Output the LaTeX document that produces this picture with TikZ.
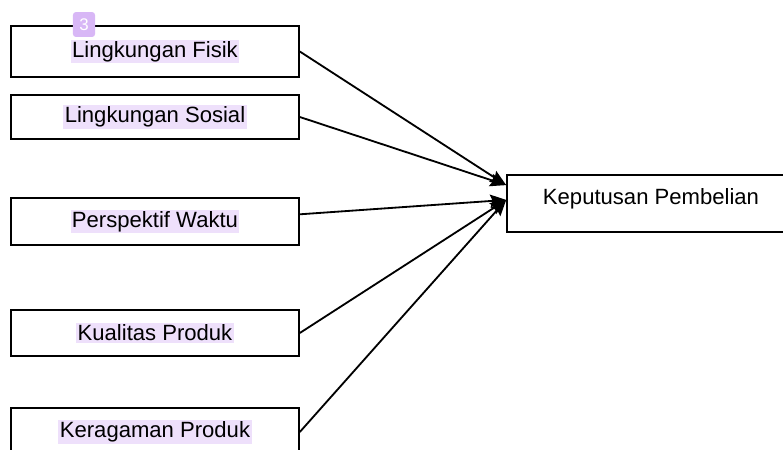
\documentclass[tikz,border=0pt]{standalone}
\usepackage{fontspec}
\setmainfont{Liberation Sans}
\usetikzlibrary{arrows.meta}
\definecolor{hlpurple}{RGB}{238,224,251}
\definecolor{badgepurple}{RGB}{216,183,246}
\newcommand{\hl}[1]{{\setlength{\fboxsep}{1pt}\colorbox{hlpurple}{#1}}}

\begin{document}
\begin{tikzpicture}[>={Stealth[length=4mm,width=3.2mm,inset=0.6mm]}, x=0.025cm, y=-0.025cm,
  box/.style={draw, line width=1.1pt, fill=white, minimum width=7.2cm, inner sep=0pt,
    font=\fontsize{15.7}{19}\selectfont},
  link/.style={->, line width=1.3pt}]
\useasboundingbox (0,0) rectangle (783,449);
\clip (0,0) rectangle (783,449);

% left column
\node [box, minimum height=1.275cm] (fisik) at (155,51.5) {\hl{Lingkungan Fisik}};
\node [box, minimum height=1.1cm] (sosial) at (155,117) {\hl{Lingkungan Sosial}};
\node [box, minimum height=1.175cm] (waktu) at (155,221.5) {\hl{Perspektif Waktu}};
\node [box, minimum height=1.15cm] (kualitas) at (155,333) {\hl{Kualitas Produk}};
\node [box, minimum height=1.2cm] (keragaman) at (155,432) {\hl{Keragaman Produk}};

% right
\node [box, minimum height=1.425cm, text depth=10pt] (keputusan) at (651,203.5) {Keputusan Pembelian};

\node [fill=badgepurple, rounded corners=2pt, text=white, minimum width=0.55cm,
  minimum height=0.62cm, inner sep=0pt, font=\fontsize{12}{14}\selectfont] (badge) at (84,24.5) {3};

\draw [link] (fisik.east) -- ([yshift=0.46cm]keputusan.west);
\draw [link] (sosial.east) -- ([yshift=0.46cm]keputusan.west);
\draw [link] ([yshift=0.18cm]waktu.east) -- ([yshift=0.09cm]keputusan.west);
\draw [link] (kualitas.east) -- ([yshift=0.09cm]keputusan.west);
\draw [link] (keragaman.east) -- ([yshift=0.09cm]keputusan.west);

\end{tikzpicture}
\end{document}
